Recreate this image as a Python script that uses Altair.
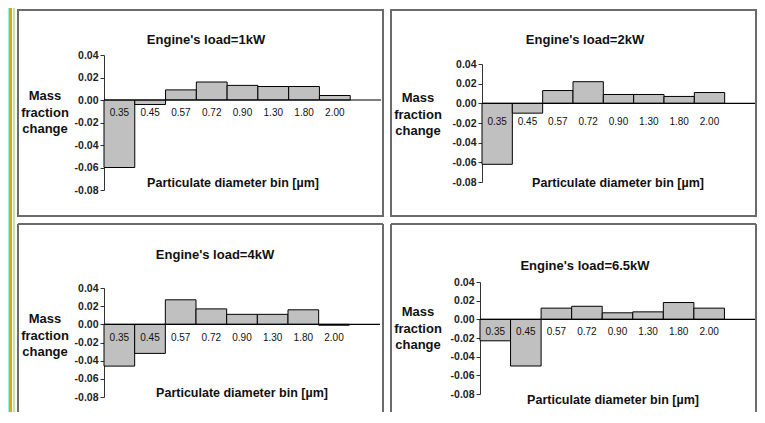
import altair as alt
import pandas as pd

# ---- data ----
bins = ["0.35", "0.45", "0.57", "0.72", "0.90", "1.30", "1.80", "2.00"]
load_1kw = [-0.060, -0.004, 0.009, 0.016, 0.013, 0.012, 0.012, 0.004]
load_2kw = [-0.062, -0.010, 0.013, 0.022, 0.009, 0.009, 0.007, 0.011]
load_4kw = [-0.046, -0.032, 0.027, 0.017, 0.011, 0.011, 0.016, -0.001]
load_65kw = [-0.023, -0.050, 0.012, 0.014, 0.007, 0.008, 0.018, 0.012]
titles = ["Engine's load=1kW", "Engine's load=2kW", "Engine's load=4kW", "Engine's load=6.5kW"]
y_ticks = [-0.08, -0.06, -0.04, -0.02, 0.00, 0.02, 0.04]
x_title = "Particulate diameter bin [\u00b5m]"
y_title = "Mass\nfraction\nchange"
series = [load_1kw, load_2kw, load_4kw, load_65kw]

FONT = "Liberation Sans"
W = 365
H_TOP = 206
H_BOT = 188
GAP = 8

# layout / style of each panel (pixel positions inside the panel)
layouts = [
    dict(h=H_TOP, xr=[86, 363], yr=[180, 45], tpos=(188, 30), ypos=(27, 86), dy=13, xpos=(215, 173), closed=True),
    dict(h=H_TOP, xr=[91, 364], yr=[172, 54], tpos=(194, 30), ypos=(27, 88), dy=19, xpos=(227, 173), closed=True),
    dict(h=H_BOT, xr=[86, 362], yr=[173, 64], tpos=(197, 31), ypos=(27, 95), dy=14, xpos=(224, 169), closed=False),
    dict(h=H_BOT, xr=[89, 364], yr=[170, 58], tpos=(194, 42), ypos=(27, 88), dy=13, xpos=(222, 176), closed=False),
]

one = pd.DataFrame({"k": [0]})
BORDER = "#6b6b6b"


def panel(i):
    L = layouts[i]
    h = L["h"]
    df = pd.DataFrame({
        "bin": bins,
        "x0": list(range(len(bins))),
        "x1": list(range(1, len(bins) + 1)),
        "xm": [k + 0.5 for k in range(len(bins))],
        "v": series[i],
    })
    xs = alt.Scale(domain=[0, len(bins) + 1], range=L["xr"])
    ys = alt.Scale(domain=[-0.08, 0.04], range=L["yr"])
    yaxis = alt.Axis(
        values=y_ticks,
        labelExpr="replace(format(datum.value, '.2f'), '\u2212', '-')",
        offset=-L["xr"][0],
        title=None, grid=False,
        labelOverlap=False, labelFlush=False,
        domainColor="#333333", tickColor="#333333", tickSize=4,
        labelFont=FONT, labelFontSize=10.5, labelFontWeight="bold",
        labelColor="#222222", labelPadding=2,
    )

    bars = alt.Chart(df).mark_rect(fill="#c0c0c0", stroke="black", strokeWidth=1).encode(
        x=alt.X("x0:Q", scale=xs, axis=None),
        x2="x1",
        y=alt.Y("v:Q", scale=ys, axis=yaxis),
        y2=alt.datum(0),
    )
    zero = alt.Chart(one).mark_rule(color="black", strokeWidth=1.2).encode(
        x=alt.XDatum(0, scale=xs, axis=None), x2=alt.datum(len(bins) + 1),
        y=alt.YDatum(0, scale=ys, axis=yaxis)
    )
    labels = alt.Chart(df).mark_text(font=FONT, fontSize=10, color="#111111",
                                     baseline="middle", dy=L["dy"]).encode(
        x=alt.X("xm:Q", scale=xs, axis=None), y=alt.YDatum(0, scale=ys, axis=yaxis), text="bin:N"
    )
    title = alt.Chart(one).mark_text(font=FONT, fontSize=13, fontWeight="bold", color="#111111",
                                     align="center", baseline="middle").encode(
        x=alt.value(L["tpos"][0]), y=alt.value(L["tpos"][1]), text=alt.value(titles[i])
    )
    ytitle = alt.Chart(one).mark_text(font=FONT, fontSize=13, fontWeight="bold", color="#111111",
                                      align="center", baseline="middle", lineBreak="\n",
                                      lineHeight=16.5).encode(
        x=alt.value(L["ypos"][0]), y=alt.value(L["ypos"][1]), text=alt.value(y_title)
    )
    xtitle = alt.Chart(one).mark_text(font=FONT, fontSize=12.5, fontWeight="bold", color="#111111",
                                      align="center", baseline="middle").encode(
        x=alt.value(L["xpos"][0]), y=alt.value(L["xpos"][1]), text=alt.value(x_title)
    )
    if L["closed"]:
        border = [alt.Chart(one).mark_rect(fillOpacity=0, stroke=BORDER, strokeWidth=2).encode(
            x=alt.value(0), x2=alt.value(W), y=alt.value(0), y2=alt.value(h))]
    else:
        border = [
            alt.Chart(one).mark_rule(color=BORDER, strokeWidth=2).encode(
                x=alt.value(0), x2=alt.value(W), y=alt.value(0)),
            alt.Chart(one).mark_rule(color=BORDER, strokeWidth=2).encode(
                x=alt.value(0), y=alt.value(0), y2=alt.value(h)),
            alt.Chart(one).mark_rule(color=BORDER, strokeWidth=2).encode(
                x=alt.value(W), y=alt.value(0), y2=alt.value(h)),
        ]
    layers = []
    if i == 0:
        full = H_TOP + GAP + H_BOT
        for (a, b, c) in [(-10, -9, "#86fbe0"), (-9, -6, "#ff9900"), (-5, -3, "#bde6a6")]:
            layers.append(alt.Chart(one).mark_rect(fill=c).encode(
                x=alt.value(a), x2=alt.value(b), y=alt.value(-2), y2=alt.value(full)))
    layers += border + [bars, zero, labels, title, ytitle, xtitle]
    return alt.layer(*layers).properties(width=W, height=h)


chart = alt.concat(
    *[panel(i) for i in range(4)], columns=2, spacing=GAP, bounds="flush"
).properties(padding=0, background="white").configure_view(strokeWidth=0)

chart.save("out.html", embed_options={"renderer": "svg", "actions": False})
